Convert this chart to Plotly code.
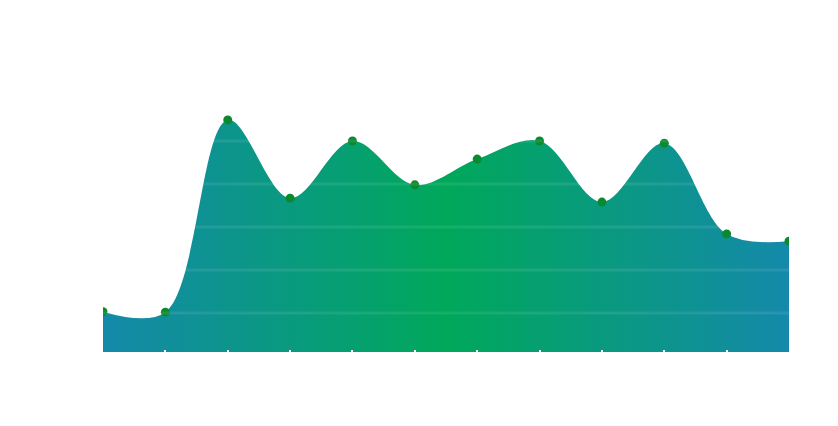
import plotly.graph_objects as go

categories = ["1", "2", "3", "4", "5", "6", "7", "8", "9", "10", "11", "12"]
values = [20.3, 20.2, 64.9, 46.7, 60.0, 49.8, 55.8, 60.0, 45.8, 59.5, 38.4, 36.7]
grid_values = [20, 30, 40, 50, 60]

fig = go.Figure()
fig.add_trace(go.Scatter(
    x=categories, y=values,
    mode="lines+markers",
    line=dict(shape="spline", smoothing=1.0, width=0, color="rgba(0,0,0,0)"),
    fill="tozeroy",
    fillgradient=dict(type="horizontal",
                      colorscale=[[0, "#1489aa"], [0.5, "#00a85a"], [1, "#1489aa"]]),
    marker=dict(color="#0a8a2e", size=9),
    hoverinfo="skip",
))

for g in grid_values:
    fig.add_shape(type="line", xref="paper", x0=0, x1=1, yref="y", y0=g, y1=g,
                  line=dict(color="rgba(255,255,255,0.09)", width=3), layer="above")

fig.update_layout(
    width=838, height=426,
    margin=dict(l=95, r=57, t=12, b=82),
    paper_bgcolor="white", plot_bgcolor="white",
    showlegend=False,
    xaxis=dict(showgrid=False, zeroline=False, showline=False, showticklabels=False,
               ticks="inside", ticklen=2, tickcolor="white", tickwidth=2,
               range=[0, 11], fixedrange=True),
    yaxis=dict(showgrid=False, zeroline=False, showline=False, showticklabels=False,
               range=[10.93, 88.14], fixedrange=True),
)
fig.write_html("out.html")
